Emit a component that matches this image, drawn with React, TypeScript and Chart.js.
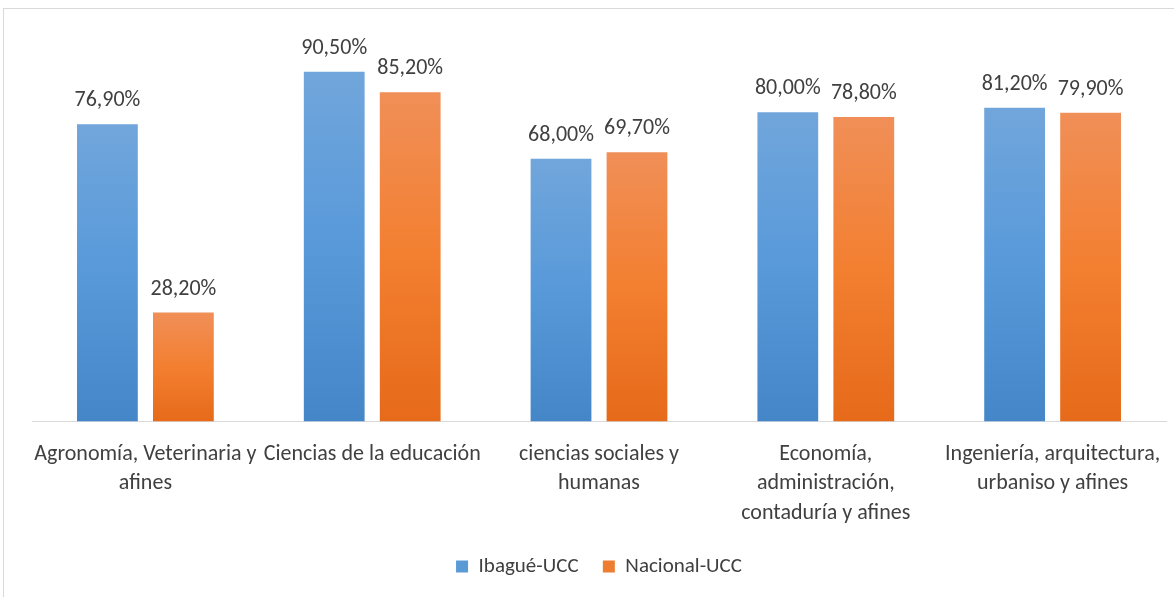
import React, { useEffect, useRef } from "react";
import { Chart, registerables } from "chart.js";

Chart.register(...registerables);

const categories: (string | string[])[] = [
  ["Agronomía, Veterinaria y", "afines"],
  "Ciencias de la educación",
  ["ciencias sociales y", "humanas"],
  ["Economía,", "administración,", "contaduría y afines"],
  ["Ingeniería, arquitectura,", "urbaniso y afines"],
];
const ibagueValues = [76.9, 90.5, 68.0, 80.0, 81.2];
const nacionalValues = [28.2, 85.2, 69.7, 78.8, 79.9];
const seriesNames = ["Ibagué-UCC", "Nacional-UCC"];

const FONT = 'Carlito, "Liberation Sans Narrow", "DejaVu Sans Condensed", sans-serif';
const TEXT = "#404040";

const BLUE = { solid: "#5B9BD5", top: "#71A6DB", mid: "#5899DA", bottom: "#4486C7" };
const ORANGE = { solid: "#ED7D31", top: "#F08F58", mid: "#F37F30", bottom: "#E66A1A" };

function gradientFill(pal: { solid: string; top: string; mid: string; bottom: string }) {
  return (c: any) => {
    if (c.type !== "data") return pal.solid;
    const chart = c.chart;
    const y = chart.scales && chart.scales.y;
    if (!y || !chart.chartArea) return pal.solid;
    const top = y.getPixelForValue(c.raw);
    const base = y.getPixelForValue(0);
    if (!isFinite(top) || !isFinite(base) || top === base) return pal.solid;
    const g = chart.ctx.createLinearGradient(0, top, 0, base);
    g.addColorStop(0, pal.top);
    g.addColorStop(0.5, pal.mid);
    g.addColorStop(1, pal.bottom);
    return g;
  };
}

const valueLabels = {
  id: "valueLabels",
  afterDatasetsDraw(chart: any) {
    const ctx = chart.ctx;
    ctx.save();
    ctx.font = `22px ${FONT}`;
    ctx.fillStyle = TEXT;
    ctx.textAlign = "center";
    ctx.textBaseline = "alphabetic";
    chart.data.datasets.forEach((ds: any, i: number) => {
      const meta = chart.getDatasetMeta(i);
      meta.data.forEach((el: any, j: number) => {
        const v = ds.data[j] as number;
        const txt = v.toFixed(2).replace(".", ",") + "%";
        ctx.fillText(txt, el.x, el.y - 18);
      });
    });
    ctx.restore();
  },
};

export default function App() {
  const ref = useRef<HTMLCanvasElement | null>(null);
  useEffect(() => {
    if (!ref.current) return;
    const chart = new Chart(ref.current, {
      type: "bar",
      data: {
        labels: categories,
        datasets: [
          {
            label: seriesNames[0],
            data: ibagueValues,
            backgroundColor: gradientFill(BLUE),
            categoryPercentage: 0.67,
            barPercentage: 0.8,
          },
          {
            label: seriesNames[1],
            data: nacionalValues,
            backgroundColor: gradientFill(ORANGE),
            categoryPercentage: 0.67,
            barPercentage: 0.8,
          },
        ],
      },
      options: {
        animation: false,
        responsive: false,
        maintainAspectRatio: false,
        layout: { padding: { left: 32, right: 8, top: 35, bottom: 10 } },
        scales: {
          y: { display: false, min: 0, max: 100 },
          x: {
            grid: { display: false, drawTicks: false },
            border: { display: true, color: "#D9D9D9", width: 1 },
            afterFit: (scale: any) => {
              scale.paddingLeft = 0;
              scale.paddingRight = 0;
            },
            ticks: {
              color: TEXT,
              font: { family: FONT, size: 22, lineHeight: 1.34 },
              padding: 18,
              maxRotation: 0,
              autoSkip: false,
            },
          },
        },
        plugins: {
          title: { display: false },
          tooltip: { enabled: false },
          legend: {
            position: "bottom",
            labels: {
              color: TEXT,
              font: { family: FONT, size: 21 },
              boxWidth: 12,
              boxHeight: 12,
              padding: 10,
              generateLabels: () =>
                seriesNames.map((n, i) => ({
                  text: i === 0 ? n + "   " : n,
                  fillStyle: i === 0 ? BLUE.solid : ORANGE.solid,
                  strokeStyle: i === 0 ? BLUE.solid : ORANGE.solid,
                  lineWidth: 0,
                  fontColor: TEXT,
                  datasetIndex: i,
                  hidden: false,
                })),
            },
          },
        },
      },
      plugins: [valueLabels],
    });
    return () => chart.destroy();
  }, []);
  return (
    <div style={{ position: "fixed", left: 0, top: 0, width: 1174, height: 597, background: "#fff", overflow: "hidden" }}>
      <div
        style={{
          position: "absolute",
          left: 3,
          top: 8,
          right: -2,
          bottom: -2,
          border: "1px solid #D9D9D9",
        }}
      />
      <canvas ref={ref} width={1174} height={597} style={{ position: "absolute", left: 0, top: 0, width: 1174, height: 597 }} />
    </div>
  );
}
